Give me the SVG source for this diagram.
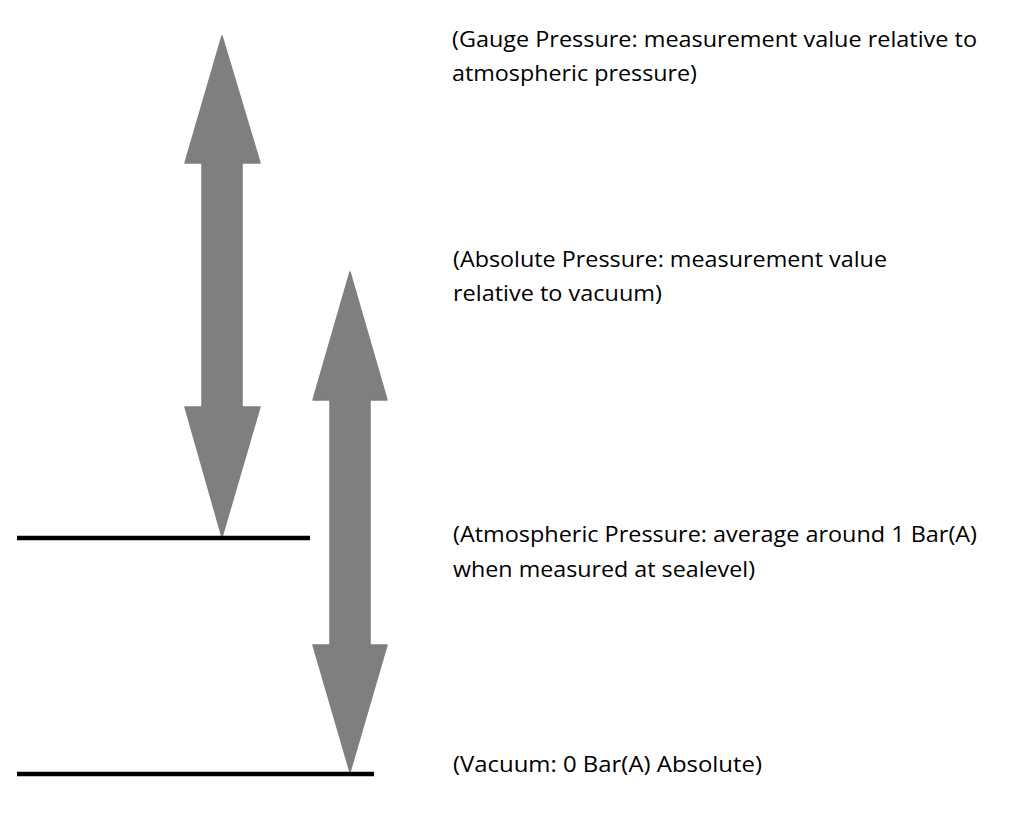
<svg xmlns="http://www.w3.org/2000/svg" width="1026" height="822" viewBox="0 0 1026 822">
<style>
.arrow{fill:#7f7f7f;stroke:#7f7f7f;stroke-width:1.5;stroke-linejoin:round}
.level{stroke:#000;stroke-width:4.5;stroke-linecap:butt}
.lbl{font-family:"Open Sans","Liberation Sans",sans-serif;font-size:22px;fill:#000}
</style>
<rect width="1026" height="822" fill="#fff"/>
<g id="connectors">
<polygon id="gauge-arrow" class="arrow" points="222,36 260,163 242,163 242,407 260,407 222,537 185,407 202,407 202,163 185,163"/>
<polygon id="absolute-arrow" class="arrow" points="350,272 387,400 370,400 370,645 387,645 350,772 313,645 330,645 330,400 313,400"/>
</g>
<g id="atmospheric-level"><line class="level" x1="17" y1="538" x2="310" y2="538"/></g>
<g id="vacuum-level"><line class="level" x1="17" y1="774" x2="374" y2="774"/></g>
<g id="gauge-label">
<text class="lbl" x="452" y="47" textLength="525" lengthAdjust="spacingAndGlyphs">(Gauge Pressure: measurement value relative to</text>
<text class="lbl" x="452" y="81" textLength="245" lengthAdjust="spacingAndGlyphs">atmospheric pressure)</text>
</g>
<g id="absolute-label">
<text class="lbl" x="453" y="267" textLength="434" lengthAdjust="spacingAndGlyphs">(Absolute Pressure: measurement value</text>
<text class="lbl" x="453" y="301" textLength="209" lengthAdjust="spacingAndGlyphs">relative to vacuum)</text>
</g>
<g id="atmospheric-label">
<text class="lbl" x="453" y="542" textLength="524" lengthAdjust="spacingAndGlyphs">(Atmospheric Pressure: average around 1 Bar(A)</text>
<text class="lbl" x="453" y="577" textLength="302" lengthAdjust="spacingAndGlyphs">when measured at sealevel)</text>
</g>
<g id="vacuum-label">
<text class="lbl" x="453" y="772" textLength="309" lengthAdjust="spacingAndGlyphs">(Vacuum: 0 Bar(A) Absolute)</text>
</g>
</svg>
